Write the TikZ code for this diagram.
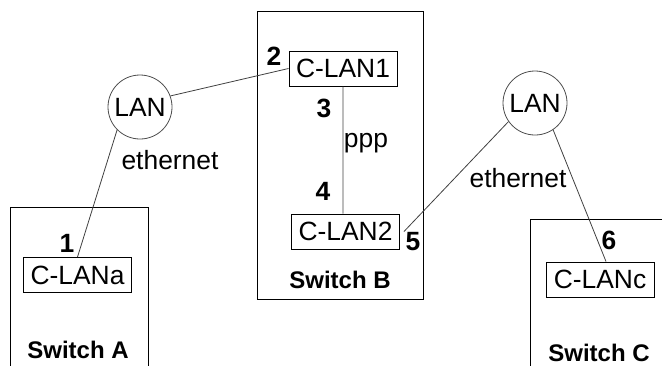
\documentclass[tikz,border=0pt]{standalone}
\usepackage{fontspec}
\setmainfont{Liberation Sans}
\usetikzlibrary{positioning}

\begin{document}
\begin{tikzpicture}[x=0.5pt,y=-0.5pt,font=\fontsize{13.2}{15}\selectfont]
  \tikzstyle{card}=[draw,line width=0.5pt,minimum width=54pt,minimum height=17.5pt,inner sep=0pt]
  \tikzstyle{lan}=[circle,draw=black!70,line width=0.4pt,minimum size=32pt,inner sep=0pt]
  \tikzstyle{port}=[font=\fontsize{13.2}{15}\selectfont\bfseries,inner sep=0pt]
  \tikzstyle{swname}=[font=\fontsize{12}{14}\selectfont\bfseries,inner sep=0pt]
  \tikzstyle{link}=[draw=black!75,line width=0.4pt]
  \tikzstyle{frame}=[draw,line width=0.5pt]

  \useasboundingbox (0,0) rectangle (662,365);

  % switch frames
  \draw[frame] (10,366) -- (10,207) -- (148,207) -- (148,366);
  \draw[frame] (257,11) rectangle (423,299);
  \draw[frame] (530,366) -- (530,219) -- (663,219);

  \node[card] (clana) at (77.5,275)  {C-LANa};
  \node[card] (clan1) at (343,68.5)  {C-LAN1};
  \node[card] (clan2) at (345.5,231.5) {C-LAN2};
  \node[card] (clanc) at (600,279.5) {C-LANc};

  \node[lan]  (lana)  at (140,107)   {LAN};
  \node[lan]  (lanc)  at (535,103)   {LAN};

  \node[port] (p1) at (67,243)  {1};
  \node[port] (p2) at (274,56)  {2};
  \node[port] (p3) at (324,108) {3};
  \node[port] (p4) at (323,191) {4};
  \node[port] (p5) at (413,242) {5};
  \node[port] (p6) at (609,240) {6};

  \node[swname] (swa) at (78,350)  {Switch A};
  \node[swname] (swb) at (340,280) {Switch B};
  \node[swname] (swc) at (599,353) {Switch C};

  \node (etha) at (170,160) {ethernet};
  \node (ppp)  at (366,143) {ppp};
  \node (ethc) at (518,178) {ethernet};

  \path[link] (clana.north) -- (lana.225)
              (lana.20)     -- (clan1.west)
              (clan1.south) -- (clan1.south |- clan2.north)
              ([xshift=2pt]clan2.east) -- (lanc.215)
              (lanc.304)    -- ([xshift=3pt]clanc.north);
\end{tikzpicture}
\end{document}
